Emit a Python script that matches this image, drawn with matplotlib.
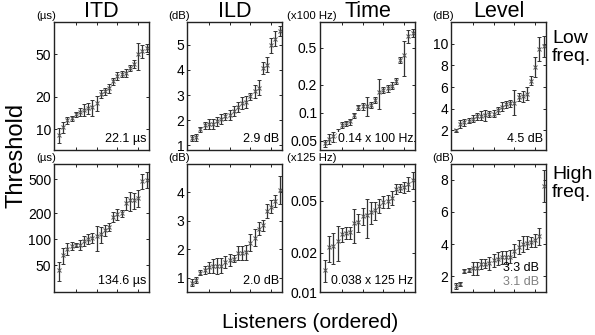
import numpy as np
import matplotlib
matplotlib.use('Agg')
import matplotlib.pyplot as plt

plt.rcParams['font.family'] = ['Liberation Sans', 'DejaVu Sans']

# limiares por ouvinte (ordenados), baixa frequencia
itd_low = [8.85, 10.4, 12.2, 12.7, 13.8, 14.6, 15.2, 15.7, 16.0, 17.5, 21.4,
           22.5, 24.2, 28.0, 31.6, 32.8, 33.5, 37.3, 41.0, 49.8, 53.5, 57.5]
itd_low_err = [1.35, 1.2, 0.9, 0.65, 0.8, 1.3, 2.0, 1.8, 2.8, 2.7, 1.9,
               1.7, 2.2, 2.1, 2.8, 2.4, 3.0, 2.2, 3.6, 14, 7, 5]
ild_low = [1.28, 1.32, 1.64, 1.8, 1.86, 1.86, 1.96, 2.05, 2.15, 2.22, 2.37,
           2.54, 2.69, 2.73, 2.95, 3.15, 3.3, 4.08, 4.2, 4.97, 5.23, 5.55]
ild_low_err = [0.12, 0.15, 0.1, 0.15, 0.2, 0.2, 0.18, 0.2, 0.15, 0.2, 0.2,
               0.2, 0.25, 0.25, 0.15, 0.25, 0.3, 0.25, 0.3, 0.3, 0.3, 0.2]
time_low = [0.047, 0.053, 0.056, 0.058, 0.074, 0.078, 0.081, 0.094, 0.115, 0.118, 0.12,
            0.122, 0.138, 0.17, 0.177, 0.185, 0.197, 0.222, 0.37, 0.42, 0.67, 0.725]
time_low_err = [0.004, 0.007, 0.007, 0.009, 0.005, 0.005, 0.006, 0.005, 0.008, 0.01, 0.028,
                0.01, 0.01, 0.06, 0.015, 0.016, 0.017, 0.015, 0.025, 0.17, 0.1, 0.07]
level_low = [2.0, 2.6, 2.75, 2.9, 3.1, 3.3, 3.35, 3.4, 3.5, 3.55, 3.85,
             4.2, 4.4, 4.5, 4.55, 5.1, 5.15, 5.4, 6.6, 7.85, 9.55, 9.75]
level_low_err = [0.1, 0.35, 0.3, 0.25, 0.3, 0.35, 0.4, 0.5, 0.3, 0.3, 0.35,
                 0.45, 0.3, 0.3, 1.15, 0.4, 0.5, 0.6, 0.4, 0.9, 1.1, 1.0]

# alta frequencia
itd_high = [43.7, 65.4, 78, 84, 86, 87, 96, 102, 105, 109, 115,
            127, 139, 183, 196, 202, 262, 283, 287, 305, 480, 495]
itd_high_err = [11, 13, 13, 9, 4, 12, 13, 14, 15, 35, 23,
                18, 15, 25, 27, 19, 45, 70, 62, 65, 95, 105]
ild_high = [0.83, 0.92, 1.18, 1.27, 1.37, 1.42, 1.42, 1.43, 1.55, 1.62, 1.67,
            1.86, 1.88, 1.89, 2.23, 2.41, 2.73, 2.84, 3.35, 3.5, 3.7, 4.08]
ild_high_err = [0.12, 0.1, 0.08, 0.15, 0.2, 0.25, 0.28, 0.25, 0.2, 0.2, 0.12,
                0.25, 0.25, 0.25, 0.3, 0.3, 0.22, 0.2, 0.25, 0.22, 0.2, 0.5]
time_high = [0.0147, 0.022, 0.0225, 0.0246, 0.0277, 0.0285, 0.0287, 0.0337, 0.0343, 0.0385, 0.039,
             0.0414, 0.0426, 0.046, 0.0494, 0.05, 0.053, 0.062, 0.063, 0.064, 0.068, 0.0725]
time_high_err = [0.0028, 0.005, 0.006, 0.0074, 0.0035, 0.003, 0.003, 0.01, 0.0055, 0.006, 0.013,
                 0.0079, 0.0068, 0.0057, 0.0054, 0.006, 0.0066, 0.0058, 0.0046, 0.006, 0.0085, 0.011]
level_high = [1.37, 1.5, 2.33, 2.37, 2.47, 2.48, 2.74, 2.78, 2.79, 2.99, 3.09,
              3.16, 3.18, 3.2, 3.57, 3.82, 4.02, 4.07, 4.13, 4.23, 4.48, 7.65]
level_high_err = [0.2, 0.1, 0.12, 0.12, 0.4, 0.4, 0.3, 0.3, 0.4, 0.4, 0.4,
                  0.4, 0.4, 0.4, 0.4, 0.45, 0.5, 0.4, 0.3, 0.4, 0.55, 1.0]

titles = ['ITD', 'ILD', 'Time', 'Level']
units_low = ['(µs)', '(dB)', '(x100 Hz)', '(dB)']
units_high = ['(µs)', '(dB)', '(x125 Hz)', '(dB)']
notes_low = ['22.1 µs', '2.9 dB', '0.14 x 100 Hz', '4.5 dB']
notes_high = ['134.6 µs', '2.0 dB', '0.038 x 125 Hz', '3.3 dB']
note_level_high2 = '3.1 dB'

yticks_low = [[10, 20, 50], [1, 2, 3, 4, 5], [0.05, 0.1, 0.2, 0.5], [2, 4, 6, 8, 10]]
yticks_high = [[50, 100, 200, 500], [1, 2, 3, 4], [0.01, 0.02, 0.05], [2, 4, 6, 8]]
ylims_low = [(6.4, 100), (0.82, 5.9), (0.04, 0.95), (0.2, 12)]
ylims_high = [(24.5, 750), (0.5, 5), (0.0101, 0.096), (1, 9)]
logscale = [True, False, True, False]

W, H = 595, 335
fig = plt.figure(figsize=(W / 100, H / 100), dpi=100)

lefts = [54, 187, 320, 451]
tops = [22, 164]
aw, ah = 95, 128

rows = [
    ([itd_low, ild_low, time_low, level_low],
     [itd_low_err, ild_low_err, time_low_err, level_low_err],
     units_low, notes_low, yticks_low, ylims_low),
    ([itd_high, ild_high, time_high, level_high],
     [itd_high_err, ild_high_err, time_high_err, level_high_err],
     units_high, notes_high, yticks_high, ylims_high),
]

for r, (vals, errs, units, notes, yt, yl) in enumerate(rows):
    for c in range(4):
        ax = fig.add_axes([lefts[c] / W, 1 - (tops[r] + ah) / H, aw / W, ah / H])
        y = np.array(vals[c])
        x = np.arange(1, len(y) + 1)
        ax.errorbar(x, y, yerr=errs[c], fmt='x', color='#555555', ecolor='#333333',
                    ms=2.5, mew=0.7, elinewidth=0.9, capsize=1.3, capthick=0.8)
        if logscale[c]:
            ax.set_yscale('log')
        ax.set_ylim(*yl[c])
        ax.set_xlim(-0.2, 22.6)
        ax.set_yticks(yt[c])
        ax.set_yticklabels([('%g' % v) for v in yt[c]], fontsize=10)
        ax.minorticks_off()
        ax.set_xticks([5, 10, 15, 20])
        ax.set_xticklabels([])
        ax.tick_params(direction='in', top=True, right=True, length=2.5, width=0.6, pad=2)
        for s in ax.spines.values():
            s.set_linewidth(1.0)
            s.set_color('#222222')
        # unidade acima do eixo
        ax.text(-8 / aw, 1.01, units[c], transform=ax.transAxes, ha='center', va='bottom', fontsize=8.2)
        if r == 0:
            ax.set_title(titles[c], fontsize=15.5, pad=2)
        if c == 2:
            ax.text(0.985, 0.04, notes[c], transform=ax.transAxes, ha='right', va='bottom', fontsize=8.8,
                    bbox=dict(facecolor='white', edgecolor='none', pad=0.5))
        elif c == 3 and r == 1:
            ax.text(0.93, 0.14, notes[c], transform=ax.transAxes, ha='right', va='bottom', fontsize=9)
            ax.text(0.93, 0.03, note_level_high2, transform=ax.transAxes, ha='right', va='bottom',
                    fontsize=9, color='#808080')
        else:
            ax.text(0.97, 0.04, notes[c], transform=ax.transAxes, ha='right', va='bottom', fontsize=9)

fig.text(552 / W, 1 - 30 / H, 'Low\nfreq.', ha='left', va='top', fontsize=14, linespacing=1.1)
fig.text(552 / W, 1 - 166 / H, 'High\nfreq.', ha='left', va='top', fontsize=14, linespacing=1.1)
fig.text(17 / W, 1 - 155 / H, 'Threshold', rotation=90, ha='center', va='center', fontsize=17)
fig.text(310 / W, 1 - 323 / H, 'Listeners (ordered)', ha='center', va='center', fontsize=15)

plt.savefig('out.png', dpi=100)
